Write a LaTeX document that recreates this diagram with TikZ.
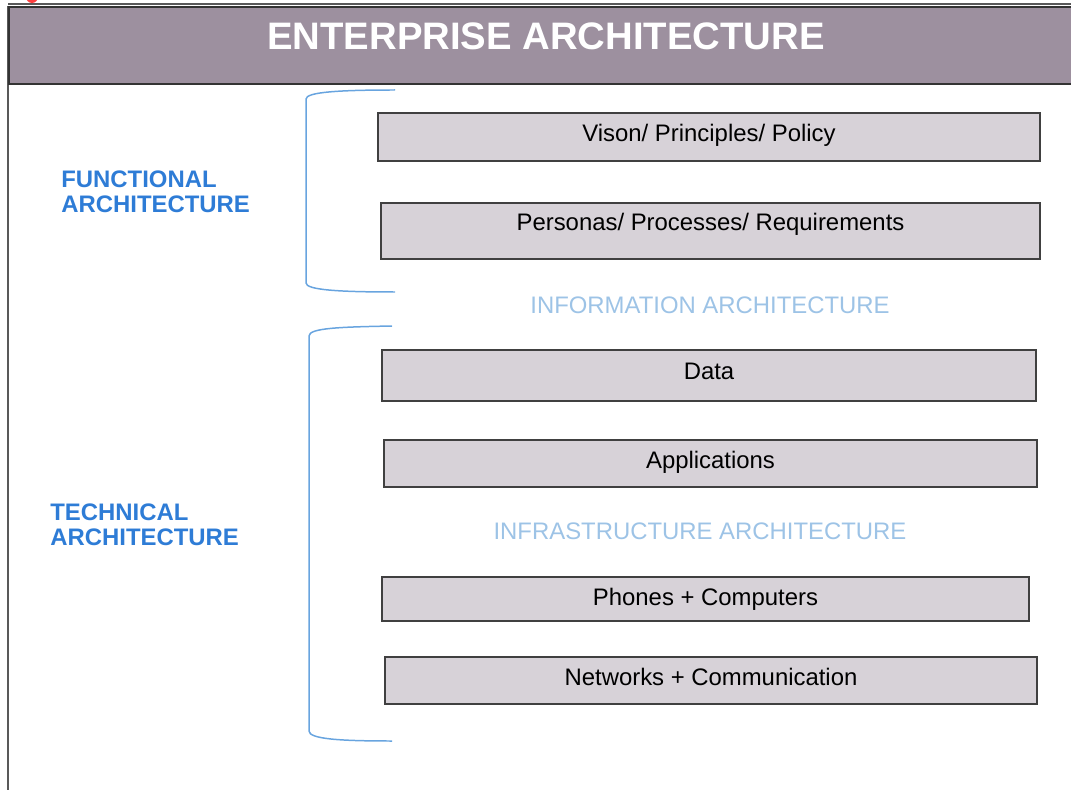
\documentclass[tikz,border=0pt]{standalone}
\usepackage{fontspec}
\setmainfont{Liberation Sans}
\usetikzlibrary{positioning}

\definecolor{titlefill}{HTML}{9D909F}
\definecolor{layerfill}{HTML}{D7D2D8}
\definecolor{darkblue}{HTML}{2E7CD6}
\definecolor{lightblue}{HTML}{9DC3E6}
\definecolor{bracecol}{HTML}{68A4DF}

\tikzset{
  layer/.style={draw=black!75, line width=0.85pt, fill=layerfill, inner sep=0pt},
  layertext/.style={inner sep=0pt, text height=9.8pt, text depth=0pt, font=\fontsize{13.6}{16}\selectfont},
  sidelabel/.style={anchor=west, align=left, inner sep=0pt, text=darkblue, font=\fontsize{13.6}{14.2}\selectfont\bfseries},
  sublabel/.style={inner sep=0pt, text=lightblue, font=\fontsize{13.6}{16}\selectfont},
  brace/.style={draw=bracecol, line width=0.85pt}
}

\begin{document}
\begin{tikzpicture}[x=0.02cm, y=-0.02cm]
\useasboundingbox (0,0) rectangle (1071,790);
\begin{scope}
\clip (0,0) rectangle (1071,790);
\fill[red!75] (32,-3) circle (6);
\draw[black!65, line width=1.1pt] (8,4) -- (1080,4);
\draw[black!65, line width=1.1pt] (8,6) -- (8,800);
\node[draw=black!80, line width=1.1pt, fill=titlefill, minimum width=21.5cm, minimum height=1.54cm, anchor=north west, inner sep=0pt] (titlebar) at (8,6) {};
\end{scope}
\node[text=white, inner sep=0pt, font=\fontsize{21.8}{25}\selectfont\bfseries] (title) at (546,36) {ENTERPRISE ARCHITECTURE};

% layers
\node[layer, minimum width=13.24cm, minimum height=0.96cm] (vision) at (709,137) {};
\node[layertext, below=0.23cm of vision.north] (visiontext) {Vison/ Principles/ Policy};
\node[layer, minimum width=13.18cm, minimum height=1.12cm] (personas) at (710.5,231) {};
\node[layertext, below=0.21cm of personas.north] (personastext) {Personas/ Processes/ Requirements};
\node[layer, minimum width=13.08cm, minimum height=1.02cm] (data) at (709,375.5) {};
\node[layertext, below=0.25cm of data.north] (datatext) {Data};
\node[layer, minimum width=13.06cm, minimum height=0.94cm] (apps) at (710.5,463.5) {};
\node[layertext, below=0.23cm of apps.north] (appstext) {Applications};
\node[layer, minimum width=12.94cm, minimum height=0.88cm] (phones) at (705.5,599) {};
\node[layertext, below=0.23cm of phones.north] (phonestext) {Phones + Computers};
\node[layer, minimum width=13.04cm, minimum height=0.94cm] (networks) at (711,680.5) {};
\node[layertext, below=0.23cm of networks.north] (networkstext) {Networks + Communication};

\node[sublabel] (info) at (710,305) {INFORMATION ARCHITECTURE};
\node[sublabel] (infra) at (700,531) {INFRASTRUCTURE ARCHITECTURE};

\node[sidelabel] (functional) at (61,191.5) {FUNCTIONAL\\ARCHITECTURE};
\node[sidelabel] (technical) at (50,524.5) {TECHNICAL\\ARCHITECTURE};

% braces
\draw[brace] (395,90) .. controls (340,90) and (306,92) .. (306,99) -- (306,283)
  .. controls (306,290) and (340,292) .. (395,292);
\draw[brace] (392,326) .. controls (340,327) and (309,328) .. (309,336) -- (309,731)
  .. controls (309,739) and (340,741) .. (392,741);
\end{tikzpicture}
\end{document}
